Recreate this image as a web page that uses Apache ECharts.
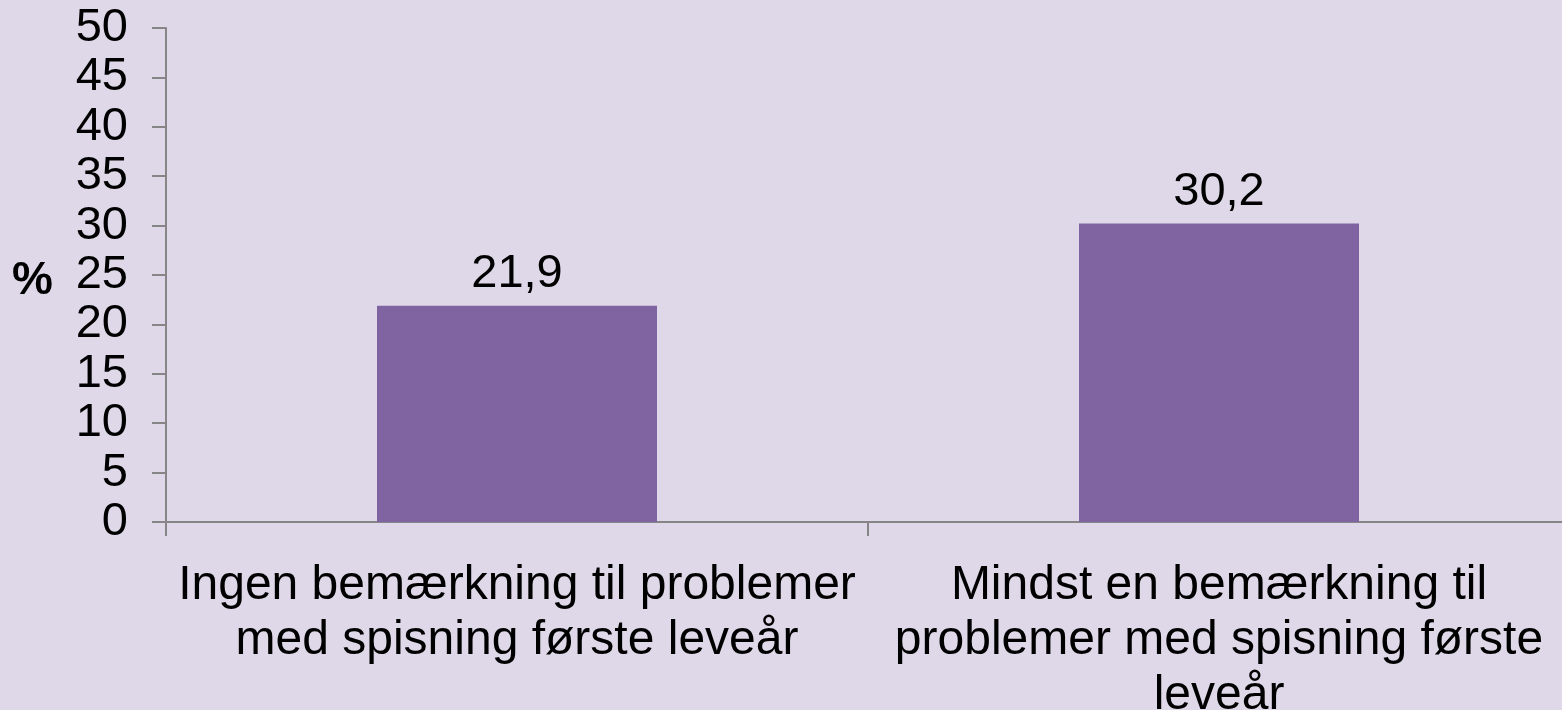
<!DOCTYPE html>
<html>
<head>
<meta charset="utf-8">
<script src="https://cdn.jsdelivr.net/npm/echarts@6/dist/echarts.min.js"></script>
<style>
  html, body { margin: 0; padding: 0; background: #DFD8E8; }
  #chart { width: 1562px; height: 710px; }
</style>
</head>
<body>
<div id="chart"></div>
<script>
let categories = [
  'Ingen bemærkning til problemer\nmed spisning første leveår',
  'Mindst en bemærkning til\nproblemer med spisning første\nleveår'
]
let values = [21.9, 30.2]
let yMin = 0
let yMax = 50
let yStep = 5

let font = '"Liberation Sans", Arial, sans-serif'
let axisColor = '#868686'

let ch = echarts.init(document.getElementById('chart'))
let option = {
  backgroundColor: '#DFD8E8',
  animation: false,
  textStyle: { fontFamily: font },
  grid: {
    left: 166,
    right: -8,
    top: 28,
    bottom: 188,
    outerBoundsMode: 'none'
  },
  graphic: [
    {
      type: 'text',
      left: 12,
      top: 258,
      style: {
        text: '%',
        font: 'bold 46px ' + font,
        fill: '#000'
      }
    }
  ],
  xAxis: {
    type: 'category',
    data: categories,
    axisLine: { lineStyle: { color: axisColor, width: 2 } },
    axisTick: { show: true, length: 14, alignWithLabel: false, lineStyle: { color: axisColor, width: 2 } },
    axisLabel: {
      color: '#000',
      fontSize: 48,
      lineHeight: 55,
      margin: 36,
      fontFamily: font,
      interval: 0,
      align: 'center'
    },
    splitLine: { show: false }
  },
  yAxis: {
    type: 'value',
    min: yMin,
    max: yMax,
    interval: yStep,
    axisLine: { show: true, lineStyle: { color: axisColor, width: 2 } },
    axisTick: { show: true, length: 14, lineStyle: { color: axisColor, width: 2 } },
    axisLabel: {
      color: '#000',
      fontSize: 47,
      margin: 38,
      fontFamily: font
    },
    splitLine: { show: false }
  },
  series: [
    {
      type: 'bar',
      data: values,
      barWidth: 280,
      itemStyle: { color: '#8064A2' },
      label: {
        show: true,
        position: 'top',
        distance: 8,
        color: '#000',
        fontSize: 47,
        fontFamily: font,
        formatter: p => String(p.value).replace('.', ',')
      }
    }
  ]
}
ch.setOption(option)
</script>
</body>
</html>
